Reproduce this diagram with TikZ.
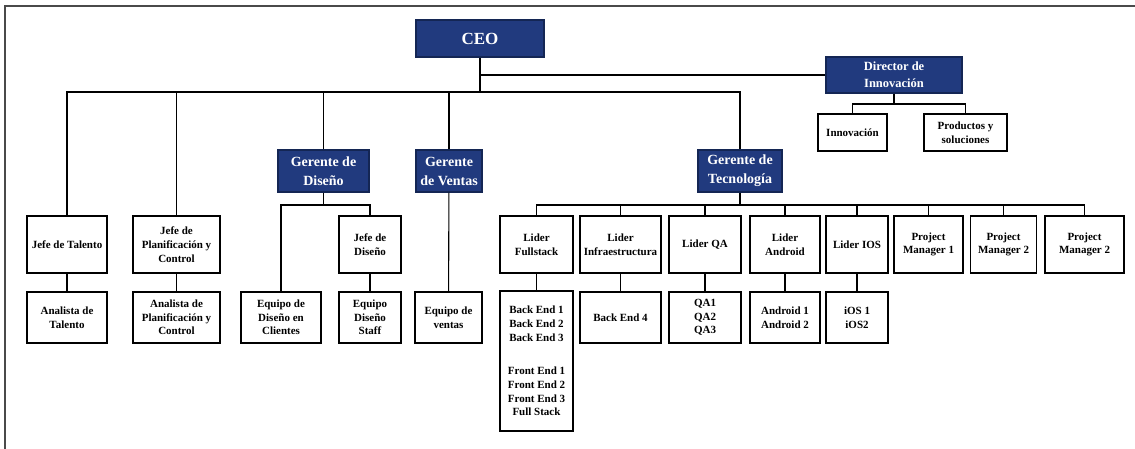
\documentclass[tikz,border=0pt]{standalone}
\usepackage{fontspec}
\setmainfont{Liberation Serif}
\definecolor{navy}{HTML}{213A7E}
\definecolor{navyline}{HTML}{142654}
\definecolor{framegray}{HTML}{4A4A4A}
\begin{document}
\begin{tikzpicture}[x=1pt, y=-1pt]
    \tikzstyle{boss}=[draw=navyline, fill=navy, text=white, line width=1.3pt, inner sep=1pt, align=center, font=\fontsize{14}{19}\selectfont\bfseries]
    \tikzstyle{unit}=[draw=black, fill=white, line width=1.3pt, inner sep=1pt, align=center, font=\fontsize{11}{13.7}\selectfont\bfseries]
    \tikzstyle{lead}=[unit, minimum height=57pt]
    \tikzstyle{team}=[unit, minimum height=51pt]
    \tikzstyle{link}=[draw=black, line width=1.1pt]
    \useasboundingbox (0,0) rectangle (1135,448);
    \draw[framegray, line width=2.6pt] (5,460) |- (1140,6);
    % top
    \node[boss, minimum width=128pt, minimum height=37pt, font=\fontsize{17}{20}\selectfont\bfseries] (ceo) at (480,38.5) {CEO};
    \node[boss, minimum width=136pt, minimum height=36pt, font=\fontsize{12.5}{17}\selectfont\bfseries] (dir) at (894,75) {Director de\\Innovación};
    \node[unit, minimum width=69pt, minimum height=37pt] (inno) at (852.5,132.5) {Innovación};
    \node[unit, minimum width=83pt, minimum height=37pt] (prod) at (965.5,132.5) {Productos y\\soluciones};
    % gerentes
    \node[boss, minimum width=91pt, minimum height=42pt] (gdis) at (323.5,171) {Gerente de\\Diseño};
    \node[boss, minimum width=66pt, minimum height=42pt] (gven) at (449,171) {Gerente\\de Ventas};
    \node[boss, minimum width=84pt, minimum height=42pt] (gtec) at (740,171) {Gerente de\\Tecnología};
    % jefes y lideres
    \node[lead, minimum width=80pt] (talento) at (67,244.5) {Jefe de Talento};
    \node[lead, minimum width=87pt] (planif) at (176.5,244.5) {Jefe de\\Planificación y\\Control};
    \node[lead, minimum width=62pt] (jdis) at (370,244.5) {Jefe de\\Diseño};
    \node[lead, minimum width=73pt] (lfs) at (536.5,244.5) {Lider\\Fullstack};
    \node[lead, minimum width=81pt] (linf) at (620.5,244.5) {Lider\\Infraestructura};
    \node[lead, minimum width=72pt] (lqa) at (705,244.5) {Lider QA};
    \node[lead, minimum width=70pt] (land) at (785,244.5) {Lider\\Android};
    \node[lead, minimum width=62pt] (lios) at (857,244.5) {Lider IOS};
    \node[lead, minimum width=69pt] (pm1) at (928.5,244.5) {Project\\Manager 1};
    \node[lead, minimum width=66pt] (pm2) at (1003.5,244.5) {Project\\Manager 2};
    \node[lead, minimum width=79pt] (pm3) at (1084.5,244.5) {Project\\Manager 2};
    % equipos
    \node[team, minimum width=80pt] (anatal) at (67,317.5) {Analista de\\Talento};
    \node[team, minimum width=87pt] (anaplan) at (176.5,317.5) {Analista de\\Planificación y\\Control};
    \node[team, minimum width=80pt] (eqcli) at (281,317.5) {Equipo de\\Diseño en\\Clientes};
    \node[team, minimum width=62pt] (eqstaff) at (370,317.5) {Equipo\\Diseño\\Staff};
    \node[team, minimum width=67pt] (eqven) at (448.5,317.5) {Equipo de\\ventas};
    \node[unit, minimum width=73pt, minimum height=140pt] (be) at (536.5,361) {Back End 1\\Back End 2\\Back End 3\\[20pt]Front End 1\\Front End 2\\Front End 3\\Full Stack};
    \node[team, minimum width=81pt] (be4) at (620.5,317.5) {Back End 4};
    \node[team, minimum width=72pt] (qa) at (705,317.5) {QA1\\QA2\\QA3};
    \node[team, minimum width=70pt] (andr) at (785,317.5) {Android 1\\Android 2};
    \node[team, minimum width=62pt] (ios) at (857,317.5) {iOS 1\\iOS2};
    % buses
    \coordinate (mainbus) at (0,92);
    \coordinate (dirbus) at (0,104);
    \coordinate (lowbus) at (0,205);
    \draw[link] (ceo.south) -- (ceo.south |- mainbus);
    \draw[link] (ceo.south |- dir.west) -- (dir.west);
    \draw[link] (talento.north) -- (talento.north |- mainbus) -| (gtec.north);
    \foreach \n in {planif, gdis, gven}
      \draw[link] (\n.north) -- (\n.north |- mainbus);
    \draw[link] (dir.south) -- (dir.south |- dirbus);
    \draw[link] (inno.north) -- (inno.north |- dirbus) -| (prod.north);
    \draw[link] (gdis.south) -- (gdis.south |- lowbus);
    \draw[link] (eqcli.north) -- (eqcli.north |- lowbus) -| (jdis.north);
    \draw[link] (gtec.south) -- (gtec.south |- lowbus);
    \draw[link] (lfs.north) -- (lfs.north |- lowbus) -| (pm3.north);
    \foreach \n in {linf, lqa, land, lios, pm1, pm2}
      \draw[link] (\n.north) -- (\n.north |- lowbus);
    \foreach \a/\b in {talento/anatal, planif/anaplan, jdis/eqstaff, gven/eqven, lfs/be, linf/be4, lqa/qa, land/andr, lios/ios}
      \draw[link] (\a) -- (\b);
\end{tikzpicture}
\end{document}
